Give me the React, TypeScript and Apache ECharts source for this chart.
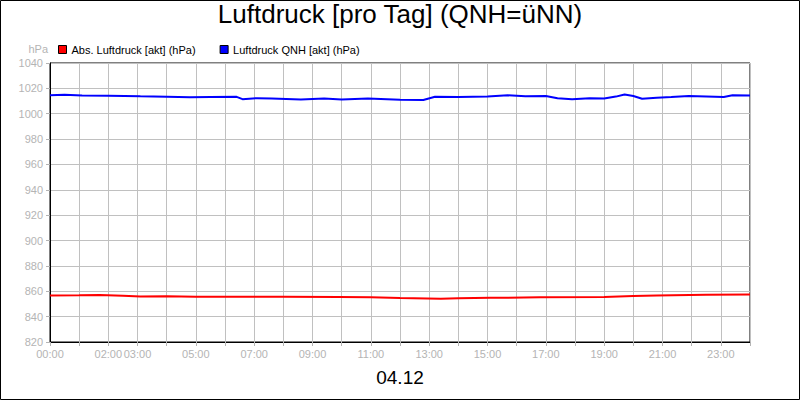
import React, { useEffect, useRef } from 'react';
import * as echarts from 'echarts';

// hours of the day (0..24) and pressure readings in hPa
const qnhHours = [0, 0.5, 1.1, 2, 3.1, 4, 4.8, 5.5, 6.4, 6.6, 7.1, 7.6, 8.6, 9.4, 10, 10.9, 12, 12.8, 13.2, 14, 15, 15.7, 16.3, 17, 17.4, 17.9, 18.5, 19, 19.4, 19.7, 20, 20.3, 20.8, 21.3, 21.9, 22.5, 23.1, 23.4, 24];
const qnhValues = [1014.5, 1015, 1014.3, 1014.2, 1013.7, 1013.4, 1012.9, 1013.1, 1013.3, 1011.5, 1012.3, 1012.1, 1011.3, 1012.1, 1011.2, 1012, 1011, 1010.8, 1013.4, 1013.2, 1013.5, 1014.5, 1013.8, 1014, 1012.2, 1011.4, 1012.2, 1012, 1013.5, 1015.2, 1014, 1011.8, 1012.6, 1013.2, 1014, 1013.6, 1013.2, 1014.6, 1014.4];

const absHours = [0, 1, 1.7, 2.5, 3.1, 4, 5, 6.4, 8, 9.9, 11, 12, 13.4, 14, 15.1, 16.8, 19, 20, 20.8, 22.5, 24];
const absValues = [856.6, 856.8, 857.1, 856.4, 855.8, 856, 855.7, 855.6, 855.7, 855.4, 855.2, 854.6, 854.2, 854.4, 854.8, 855.2, 855.5, 856.2, 856.6, 857.2, 857.5];

// hours that get a label on the x axis
const labelHours = [0, 2, 3, 5, 7, 9, 11, 13, 15, 17, 19, 21, 23];

const FONT = 'Arial, "Liberation Sans", sans-serif';
const GREY = '#b4b4b4';

const App: React.FC = () => {
  const chartRef = useRef<HTMLDivElement>(null);

  useEffect(() => {
    document.body.style.margin = '0';
    if (!chartRef.current) return;
    const chart = echarts.init(chartRef.current, undefined, { renderer: 'svg' });

    const pad = (h: number) => (h < 10 ? '0' + h : '' + h) + ':00';

    chart.setOption({
      animation: false,
      backgroundColor: '#fff',
      textStyle: { fontFamily: FONT },
      legend: {
        left: 53,
        top: 39,
        icon: 'rect',
        itemWidth: 8,
        itemHeight: 8,
        itemGap: 24,
        textStyle: { fontSize: 11, color: '#000', fontFamily: FONT },
        itemStyle: { borderColor: '#000', borderWidth: 1 },
        data: ['Abs. Luftdruck [akt] (hPa)', 'Luftdruck QNH [akt] (hPa)']
      },
      grid: {
        left: 50,
        top: 63,
        width: 700,
        height: 279,
        show: true,
        borderColor: '#000',
        borderWidth: 1
      },
      xAxis: {
        type: 'value',
        min: 0,
        max: 24,
        interval: 1,
        axisLine: { lineStyle: { color: '#000', width: 1 } },
        axisTick: { show: true, length: 4, lineStyle: { color: GREY } },
        splitLine: { show: true, lineStyle: { color: '#c0c0c0', width: 1 } },
        axisLabel: {
          color: GREY,
          fontSize: 11,
          margin: 6,
          fontFamily: FONT,
          formatter: (v: number) => (labelHours.includes(v) ? pad(v) : '')
        }
      },
      yAxis: {
        type: 'value',
        min: 820,
        max: 1040,
        interval: 20,
        axisLine: { show: true, lineStyle: { color: '#000', width: 1 } },
        axisTick: { show: true, length: 4, lineStyle: { color: GREY } },
        splitLine: { show: true, lineStyle: { color: '#c0c0c0', width: 1 } },
        axisLabel: {
          color: GREY,
          fontSize: 11,
          margin: 7,
          fontFamily: FONT,
          formatter: (v: number) => String(v)
        }
      },
      series: [
        {
          name: 'Abs. Luftdruck [akt] (hPa)',
          type: 'line',
          data: absHours.map((h, i) => [h, absValues[i]]),
          showSymbol: false,
          color: '#ff0000',
          lineStyle: { color: '#ff0000', width: 2 }
        },
        {
          name: 'Luftdruck QNH [akt] (hPa)',
          type: 'line',
          data: qnhHours.map((h, i) => [h, qnhValues[i]]),
          showSymbol: false,
          color: '#0000ff',
          lineStyle: { color: '#0000ff', width: 2 }
        }
      ],
      graphic: [
        {
          type: 'rect',
          shape: { x: 0.5, y: 0.5, width: 799, height: 399 },
          style: { fill: 'none', stroke: '#000', lineWidth: 1 },
          silent: true
        },
        {
          type: 'text',
          x: 400,
          y: 14,
          style: {
            text: 'Luftdruck [pro Tag] (QNH=üNN)',
            fontSize: 26,
            fontFamily: FONT,
            fill: '#000',
            align: 'center',
            verticalAlign: 'middle'
          }
        },
        {
          type: 'text',
          x: 48,
          y: 49,
          style: {
            text: 'hPa',
            fontSize: 11,
            fontFamily: FONT,
            fill: GREY,
            align: 'right',
            verticalAlign: 'middle'
          }
        },
        {
          type: 'text',
          x: 400,
          y: 377,
          style: {
            text: '04.12',
            fontSize: 19,
            fontFamily: FONT,
            fill: '#000',
            align: 'center',
            verticalAlign: 'middle'
          }
        }
      ]
    });

    return () => {
      chart.dispose();
    };
  }, []);

  return <div ref={chartRef} style={{ width: 800, height: 400 }} />;
};

export default App;
